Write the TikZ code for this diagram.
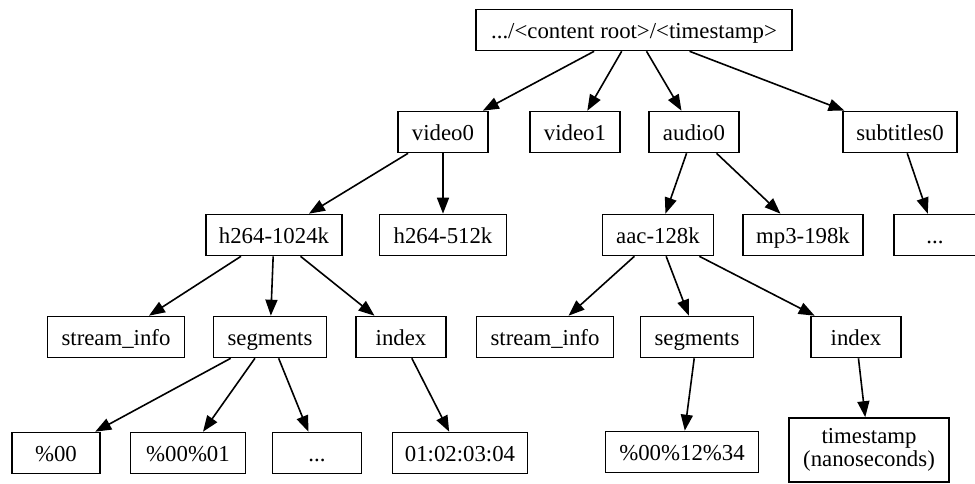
\documentclass[tikz,border=0pt]{standalone}
\usepackage{fontspec}
\setmainfont{Liberation Serif}
\usetikzlibrary{arrows.meta}

\begin{document}
\begin{tikzpicture}[x=1pt, y=-1pt,
    boxbase/.style={draw, line width=1.6pt, minimum height=41pt, inner sep=0pt,
                font=\fontsize{22.8}{26}\selectfont, align=center},
    box/.style={boxbase, text height=20pt, text depth=3pt},
    link/.style={line width=1.6pt, -{Triangle[length=16pt,width=12pt]}}]
  \useasboundingbox (0,0) rectangle (975,484);

  % level 0
  \node[box, minimum width=316pt] (root) at (634,30) {.../<content root>/<timestamp>};

  % level 1
  \node[box, minimum width=90pt]  (video0) at (443,132) {video0};
  \node[box, minimum width=90pt]  (video1) at (575,132) {video1};
  \node[box, minimum width=90pt]  (audio0) at (694,132) {audio0};
  \node[box, minimum width=114pt] (subs0)  at (900,132) {subtitles0};

  % level 2
  \node[box, minimum width=136pt] (h1024) at (274,235) {h264-1024k};
  \node[box, minimum width=127pt] (h512)  at (443,235) {h264-512k};
  \node[box, minimum width=111pt] (aac)   at (658,235) {aac-128k};
  \node[box, minimum width=120pt] (mp3)   at (803,235) {mp3-198k};
  \node[box, minimum width=82pt]  (subdots) at (935,235) {...};

  % level 3
  \node[box, minimum width=137pt] (infoL) at (116,337) {stream\_info};
  \node[box, minimum width=113pt] (segL)  at (270,337) {segments};
  \node[box, minimum width=90pt]  (idxL)  at (401,337) {index};
  \node[box, minimum width=137pt] (infoR) at (545,337) {stream\_info};
  \node[box, minimum width=113pt] (segR)  at (697,337) {segments};
  \node[box, minimum width=90pt]  (idxR)  at (856,337) {index};

  % level 4
  \node[box, minimum width=88pt]  (s00)   at (56,453)  {\%00};
  \node[box, minimum width=115pt] (s0001) at (188,453) {\%00\%01};
  \node[box, minimum width=89pt]  (sdots) at (317,453) {...};
  \node[box, minimum width=135pt] (tc)    at (460,453) {01:02:03:04};
  \node[box, minimum width=153pt] (s001234) at (682,452) {\%00\%12\%34};
  \node[boxbase, minimum width=160pt, minimum height=64pt] (ts) at (869,450)
       {timestamp\\[-3pt](nanoseconds)};

  % connectors
  \draw[link] (root) -- (video0);
  \draw[link] (root) -- (video1);
  \draw[link] (root) -- (audio0);
  \draw[link] (root) -- (subs0);

  \draw[link] (video0) -- (h1024);
  \draw[link] (video0) -- (h512);
  \draw[link] (audio0) -- (aac);
  \draw[link] (audio0) -- (mp3);
  \draw[link] (subs0) -- (subdots);

  \draw[link] (h1024) -- (infoL);
  \draw[link] (h1024) -- (segL);
  \draw[link] (h1024) -- (idxL);
  \draw[link] (aac) -- (infoR);
  \draw[link] (aac) -- (segR);
  \draw[link] (aac) -- (idxR);

  \draw[link] (segL) -- (s00);
  \draw[link] (segL) -- (s0001);
  \draw[link] (segL) -- (sdots);
  \draw[link] (idxL) -- (tc);
  \draw[link] (segR) -- (s001234);
  \draw[link] (idxR) -- (ts);
\end{tikzpicture}
\end{document}
